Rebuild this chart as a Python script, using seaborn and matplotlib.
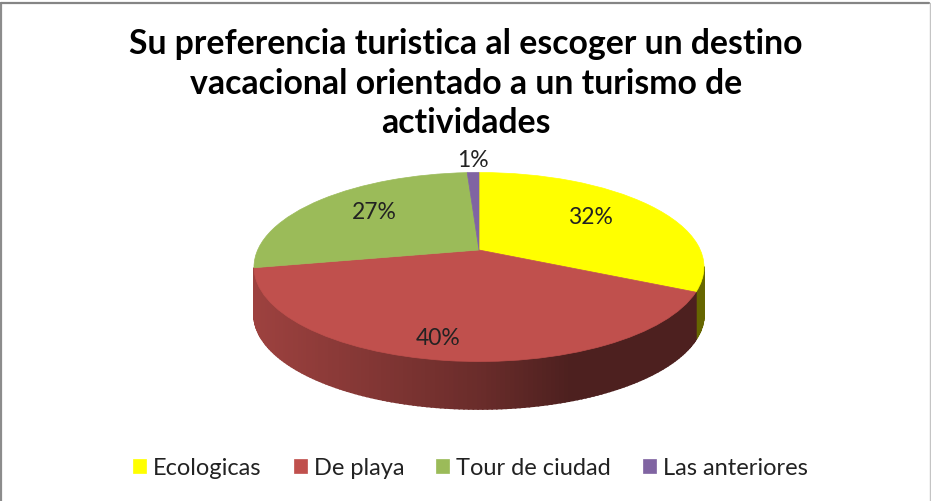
import numpy as np
import matplotlib
matplotlib.use('Agg')
import matplotlib.pyplot as plt
from matplotlib.transforms import Transform
import seaborn as sns

title = 'Su preferencia turistica al escoger un destino\nvacacional orientado a un turismo de\nactividades'
categories = ['Ecologicas', 'De playa', 'Tour de ciudad', 'Las anteriores']
values = [32, 40, 27, 1]
colors = ['#FFFF00', '#C0504D', '#9BBB59', '#8064A2']

# pie geometry, in pixels of the output
cx, cy, rx, ry = 479, 268, 225, 94.5
depth = 47.5
tilt = 0.18


def project(xy):
    x, y = xy[:, 0], xy[:, 1]
    w = 1 + tilt * y
    sx = x * np.sqrt(1 - tilt ** 2) / w
    sy = y * (1 - tilt ** 2) / w + tilt
    return np.column_stack([cx + rx * sx, cy - ry * sy])


class Perspective(Transform):
    input_dims = 2
    output_dims = 2
    is_affine = False
    has_inverse = False

    def transform_non_affine(self, values):
        return project(np.asarray(values, dtype=float))


sns.set_theme(style='white')
plt.rcParams['font.family'] = ['Lato', 'DejaVu Sans']
palette = sns.color_palette(colors)

fig = plt.figure(figsize=(9.31, 5.02), dpi=100)
ax = fig.add_axes([0, 0, 1, 1])

wedges, _, pct_texts = ax.pie(values, colors=palette, startangle=90, counterclock=False,
                              autopct='%1.0f%%', wedgeprops={'linewidth': 0.5, 'zorder': 3},
                              textprops={'fontsize': 16.5, 'color': '#222222', 'zorder': 5})
ax.set_aspect('auto')
ax.set_xlim(0, 931)
ax.set_ylim(502, 0)
ax.set_axis_off()

persp = Perspective()
for w, c in zip(wedges, palette):
    w.set_edgecolor(c)
    w.set_transform(persp + ax.transData)
    # side wall, only the part facing the viewer
    n = max(int(w.theta2 - w.theta1), 2)
    th = np.radians(np.linspace(w.theta1, w.theta2, n + 1))
    top = project(np.column_stack([np.cos(th), np.sin(th)]))
    for i in range(n):
        if top[i, 1] < cy + 1 and top[i + 1, 1] < cy + 1:
            continue
        shade = np.interp(top[i, 0], [254, 480, 570, 704], [0.82, 0.55, 0.40, 0.40])
        col = tuple(np.array(c) * shade)
        ax.fill([top[i, 0], top[i + 1, 0], top[i + 1, 0], top[i, 0]],
                [top[i, 1], top[i + 1, 1], top[i + 1, 1] + depth, top[i, 1] + depth],
                color=col, lw=1.2, zorder=2)

pct_positions = [(590, 218), (438, 339), (374, 213), (473, 161)]
for t, p in zip(pct_texts, pct_positions):
    t.set_position(p)

ax.text(466, 83.5, title, ha='center', va='center', fontsize=24.3, fontweight='bold',
        color='black', linespacing=1.28)

leg = ax.legend(wedges, categories, loc='center', bbox_to_anchor=(470.5, 469),
                bbox_transform=ax.transData, ncol=4, frameon=False, fontsize=17,
                handlelength=0.55, handleheight=0.55, handletextpad=0.3, columnspacing=1.35,
                labelcolor='#222222')

# chart frame
ax.plot([1, 1], [502, 3.5], color='#8c8c8c', lw=1.6)
ax.plot([1, 929], [3.5, 3.5], color='#858585', lw=1.6)
ax.plot([929.5, 929.5], [3.5, 502], color='#c4c4c4', lw=1)

fig.savefig('out.png', dpi=100)
